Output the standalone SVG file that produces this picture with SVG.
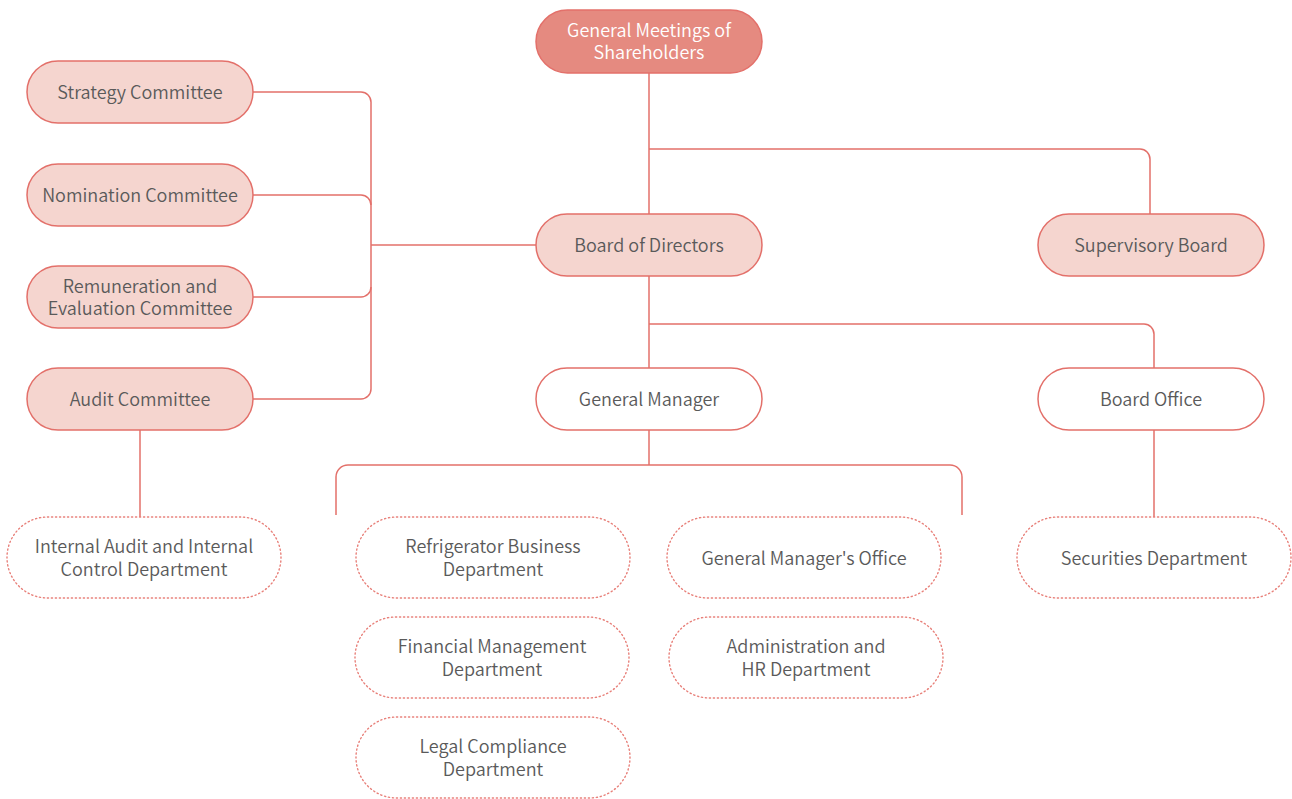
<svg xmlns="http://www.w3.org/2000/svg" width="1292" height="799" viewBox="0 0 1292 799">
<style>
.n{stroke:#e3706a;stroke-width:1.5}
.d{fill:#ffffff;stroke:#e8807a;stroke-width:1.4;stroke-dasharray:1.2 2.8;stroke-linecap:round}
.t{font-family:"Noto Sans CJK SC","Noto Sans",sans-serif;font-size:18px;font-weight:350;fill:#5a5a5a;text-anchor:middle}
.w{fill:#ffffff}
.c{fill:none;stroke:#e3706a;stroke-width:1.5}
</style>
<rect width="1292" height="799" fill="#ffffff"/>
<g id="connectors">
<path class="c" d="M649 73V214"/>
<path class="c" d="M649 149H1140A10 10 0 0 1 1150 159V214"/>
<path class="c" d="M253 92H361A10 10 0 0 1 371 102V389A10 10 0 0 1 361 399H253"/>
<path class="c" d="M253 195H361A10 10 0 0 1 371 205"/>
<path class="c" d="M253 297H361A10 10 0 0 0 371 287"/>
<path class="c" d="M371 245H536"/>
<path class="c" d="M649 276V368"/>
<path class="c" d="M649 324H1144A10 10 0 0 1 1154 334V368"/>
<path class="c" d="M1154 430V517"/>
<path class="c" d="M649 430V465"/>
<path class="c" d="M336 515V477A12 12 0 0 1 348 465H950A12 12 0 0 1 962 477V515"/>
<path class="c" d="M140 430V517"/>
</g>
<g id="n-gms"><rect class="n" x="536" y="10" width="226" height="63" rx="31.5" fill="#e58a80"/><text class="t w" x="649" y="37">General Meetings of<tspan x="649" dy="22">Shareholders</tspan></text></g>
<g id="n-strategy"><rect class="n" x="27" y="61" width="226" height="62" rx="31" fill="#f5d5cf"/><text class="t" x="140" y="98.5">Strategy Committee</text></g>
<g id="n-nomination"><rect class="n" x="27" y="164" width="226" height="62" rx="31" fill="#f5d5cf"/><text class="t" x="140" y="201.5">Nomination Committee</text></g>
<g id="n-remuneration"><rect class="n" x="27" y="266" width="226" height="62" rx="31" fill="#f5d5cf"/><text class="t" x="140" y="292.5">Remuneration and<tspan x="140" dy="22">Evaluation Committee</tspan></text></g>
<g id="n-audit"><rect class="n" x="27" y="368" width="226" height="62" rx="31" fill="#f5d5cf"/><text class="t" x="140" y="405.5">Audit Committee</text></g>
<g id="n-board"><rect class="n" x="536" y="214" width="226" height="62" rx="31" fill="#f5d5cf"/><text class="t" x="649" y="251.5">Board of Directors</text></g>
<g id="n-supervisory"><rect class="n" x="1038" y="214" width="226" height="62" rx="31" fill="#f5d5cf"/><text class="t" x="1151" y="251.5">Supervisory Board</text></g>
<g id="n-gm"><rect class="n" x="536" y="368" width="226" height="62" rx="31" fill="#ffffff"/><text class="t" x="649" y="405.5">General Manager</text></g>
<g id="n-boardoffice"><rect class="n" x="1038" y="368" width="226" height="62" rx="31" fill="#ffffff"/><text class="t" x="1151" y="405.5">Board Office</text></g>
<g id="n-internal-audit"><rect class="d" x="7" y="517" width="274" height="81" rx="40.5"/><text class="t" x="144" y="552.5">Internal Audit and Internal<tspan x="144" dy="23">Control Department</tspan></text></g>
<g id="n-refrigerator"><rect class="d" x="356" y="517" width="274" height="81" rx="40.5"/><text class="t" x="493" y="552.5">Refrigerator Business<tspan x="493" dy="23">Department</tspan></text></g>
<g id="n-financial"><rect class="d" x="355" y="617" width="274" height="81" rx="40.5"/><text class="t" x="492" y="652.5">Financial Management<tspan x="492" dy="23">Department</tspan></text></g>
<g id="n-legal"><rect class="d" x="356" y="717" width="274" height="81" rx="40.5"/><text class="t" x="493" y="752.5">Legal Compliance<tspan x="493" dy="23">Department</tspan></text></g>
<g id="n-gmoffice"><rect class="d" x="667" y="517" width="274" height="81" rx="40.5"/><text class="t" x="804" y="564.5">General Manager's Office</text></g>
<g id="n-admin-hr"><rect class="d" x="669" y="617" width="274" height="81" rx="40.5"/><text class="t" x="806" y="652.5">Administration and<tspan x="806" dy="23">HR Department</tspan></text></g>
<g id="n-securities"><rect class="d" x="1017" y="517" width="274" height="81" rx="40.5"/><text class="t" x="1154" y="564.5">Securities Department</text></g>
</svg>
